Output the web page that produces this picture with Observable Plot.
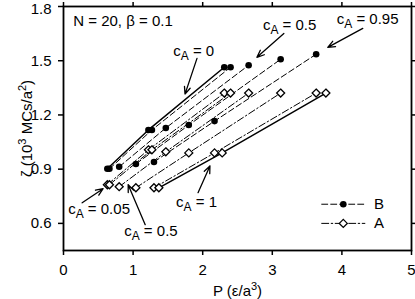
<!DOCTYPE html>
<html>
<head>
<meta charset="utf-8">
<script src="https://cdn.jsdelivr.net/npm/d3@7"></script>
<script src="https://cdn.jsdelivr.net/npm/@observablehq/plot@0.6"></script>
<style>
  html, body { margin: 0; padding: 0; background: #fff; }
  #chart { width: 415px; height: 299px; }
  #chart text { white-space: pre; }
</style>
</head>
<body>
<div id="chart"></div>
<script>
// ---- data ----
// pressure P (eps/a^3) of each system: low, middle, high grafting
const P = [
  [0.63, 1.22, 2.31],
  [0.66, 1.27, 2.40],
  [0.80, 1.47, 2.66],
  [1.04, 1.80, 3.12],
  [1.30, 2.17, 3.63],
  [1.37, 2.28, 3.77]
];
// brush height zeta (10^3 MCs/a^2) of B chains (systems 1-5)
const zetaB = [
  [0.902, 1.117, 1.464],
  [0.902, 1.117, 1.464],
  [0.913, 1.128, 1.475],
  [0.929, 1.144, 1.508],
  [0.940, 1.166, 1.536]
];
// brush height zeta of A chains (systems 1-6)
const zetaA = [
  [0.814, 1.007, 1.321],
  [0.814, 1.007, 1.321],
  [0.803, 0.996, 1.321],
  [0.797, 0.990, 1.321],
  [0.797, 0.990, 1.321],
  [0.797, 0.990, 1.321]
];
const xTicks = [0, 1, 2, 3, 4, 5];
const yTicks = [0.6, 0.9, 1.2, 1.5, 1.8];

// annotations: label, text start (P, zeta), arrow tail -> head
const annLabels = ["c_A = 0", "c_A = 0.5", "c_A = 0.95", "c_A = 0.05", "c_A = 0.5", "c_A = 1"];
const annTextP   = [1.577, 2.865, 3.926, 0.067, 0.872, 1.617];
const annTextZ   = [1.552, 1.698, 1.731, 0.681, 0.555, 0.715];
const annTailP   = [1.918, 3.166, 4.300, 0.268, 1.174, 1.933];
const annTailZ   = [1.513, 1.651, 1.679, 0.714, 0.593, 0.770];
const annHeadP   = [1.746, 2.779, 3.797, 0.569, 0.929, 2.104];
const annHeadZ   = [1.315, 1.519, 1.574, 0.792, 0.814, 0.918];

const infoText = "N = 20, β = 0.1";
const infoP = 0.14, infoZ = 1.717;

const legendLabels = ["B", "A"];
const legendZ = [0.706, 0.600];
const legendLineP = [3.71, 4.33];
const legendMarkP = 4.02;
const legendTextP = 4.46;

const xLabel = "P (ε/a^3)";
const yLabel = "ζ (10^3 MCs/a^2)";

// ---- build tables ----
const rowsB = [];
zetaB.forEach((zs, s) => zs.forEach((z, i) => rowsB.push({s, P: P[s][i], z})));
const rowsA = [];
zetaA.forEach((zs, s) => zs.forEach((z, i) => rowsA.push({s, P: P[s][i], z})));
const ann = annLabels.map((t, i) => ({t, x: annTextP[i], y: annTextZ[i],
  x1: annTailP[i], y1: annTailZ[i], x2: annHeadP[i], y2: annHeadZ[i]}));
const legLines = [];
legendLabels.forEach((lab, i) => legendLineP.forEach(p => legLines.push({lab, P: p, z: legendZ[i]})));
const legPts = legendLabels.map((lab, i) => ({lab, P: legendMarkP, z: legendZ[i], tx: legendTextP}));

const dash = "6,3";
const dashDot = "7,2.5,1.5,2.5";

const plot = Plot.plot({
  width: 415,
  height: 299,
  marginLeft: 63,
  marginRight: 4,
  marginTop: 6,
  marginBottom: 49,
  style: {fontFamily: "Liberation Sans, Arial, Helvetica, sans-serif", fontSize: "15px", color: "black", background: "white"},
  x: {domain: [0, 5]},
  y: {domain: [0.45, 1.8]},
  marks: [
    // lines
    Plot.line(rowsB.filter(d => d.s === 0), {x: "P", y: "z", stroke: "black", strokeWidth: 1.5}),
    Plot.line(rowsB.filter(d => d.s > 0), {x: "P", y: "z", z: "s", stroke: "black", strokeWidth: 1, strokeDasharray: dash}),
    Plot.line(rowsA.filter(d => d.s < 5), {x: "P", y: "z", z: "s", stroke: "black", strokeWidth: 1, strokeDasharray: dashDot}),
    Plot.line(rowsA.filter(d => d.s === 5), {x: "P", y: "z", stroke: "black", strokeWidth: 1.5}),
    // markers
    Plot.dot(rowsB, {x: "P", y: "z", r: 3.3, fill: "black"}),
    Plot.dot(rowsA, {x: "P", y: "z", symbol: "diamond2", r: 3.6, fill: "white", stroke: "black", strokeWidth: 1.3}),
    // annotations
    Plot.arrow(ann, {x1: "x1", y1: "y1", x2: "x2", y2: "y2", stroke: "black", strokeWidth: 1.3, headLength: 9, headAngle: 45}),
    Plot.text(ann, {x: "x", y: "y", text: "t", textAnchor: "start", lineAnchor: "middle", fill: "black", fontSize: 15}),
    Plot.text([infoText], {x: () => infoP, y: () => infoZ, text: d => d, textAnchor: "start", lineAnchor: "middle", fill: "black", fontSize: 15}),
    // legend
    Plot.line(legLines.filter(d => d.lab === "B"), {x: "P", y: "z", stroke: "black", strokeWidth: 1, strokeDasharray: dash}),
    Plot.line(legLines.filter(d => d.lab === "A"), {x: "P", y: "z", stroke: "black", strokeWidth: 1, strokeDasharray: dashDot}),
    Plot.dot(legPts.filter(d => d.lab === "B"), {x: "P", y: "z", r: 3.3, fill: "black"}),
    Plot.dot(legPts.filter(d => d.lab === "A"), {x: "P", y: "z", symbol: "diamond2", r: 3.6, fill: "white", stroke: "black", strokeWidth: 1.3}),
    Plot.text(legPts, {x: "tx", y: "z", text: "lab", textAnchor: "start", lineAnchor: "middle", fill: "black", fontSize: 15}),
    // axes
    Plot.axisY({anchor: "left", ticks: yTicks, tickFormat: d3.format(".1f"), tickSize: 5, tickPadding: 7, strokeWidth: 1.5,
      label: yLabel, labelAnchor: "center", labelOffset: 42, labelArrow: "none"}),
    Plot.axisY({anchor: "right", ticks: yTicks, tickFormat: () => "", tickSize: 5, strokeWidth: 1.5, label: null}),
    Plot.axisX({anchor: "bottom", ticks: xTicks, tickFormat: d3.format("d"), tickSize: 5, tickPadding: 9, strokeWidth: 1.5,
      label: xLabel, labelAnchor: "center", labelOffset: 45, labelArrow: "none"}),
    Plot.axisX({anchor: "top", ticks: xTicks, tickFormat: () => "", tickSize: 5, strokeWidth: 1.5, label: null}),
    Plot.frame({stroke: "black", strokeWidth: 1.8})
  ]
});

const ns = "http://www.w3.org/2000/svg";
function span(txt, attrs) {
  const e = document.createElementNS(ns, "tspan");
  e.textContent = txt;
  for (const k in attrs) e.setAttribute(k, attrs[k]);
  return e;
}
plot.querySelectorAll("text").forEach(t => {
  const s = t.textContent;
  if (s.startsWith("c_A")) {
    // subscript A
    t.textContent = "";
    t.append(span("c", {}), span("A", {"font-size": "12", dy: "4"}), span(s.slice(3), {dy: "-4"}));
  } else if (s.includes("^")) {
    // superscripts
    t.textContent = "";
    const parts = s.split(/\^(\d)/);
    let up = false;
    parts.forEach((p, i) => {
      if (p === "") return;
      if (i % 2 === 1) { t.append(span(p, {"font-size": "11", dy: "-6"})); up = true; }
      else { t.append(span(p, up ? {dy: "6"} : {})); up = false; }
    });
  } else if (s === "1.8") {
    // keep the top tick label inside the picture
    t.setAttribute("transform", (t.getAttribute("transform") || "") + " translate(0,2.5)");
  }
});

document.getElementById("chart").append(plot);
</script>
</body>
</html>
